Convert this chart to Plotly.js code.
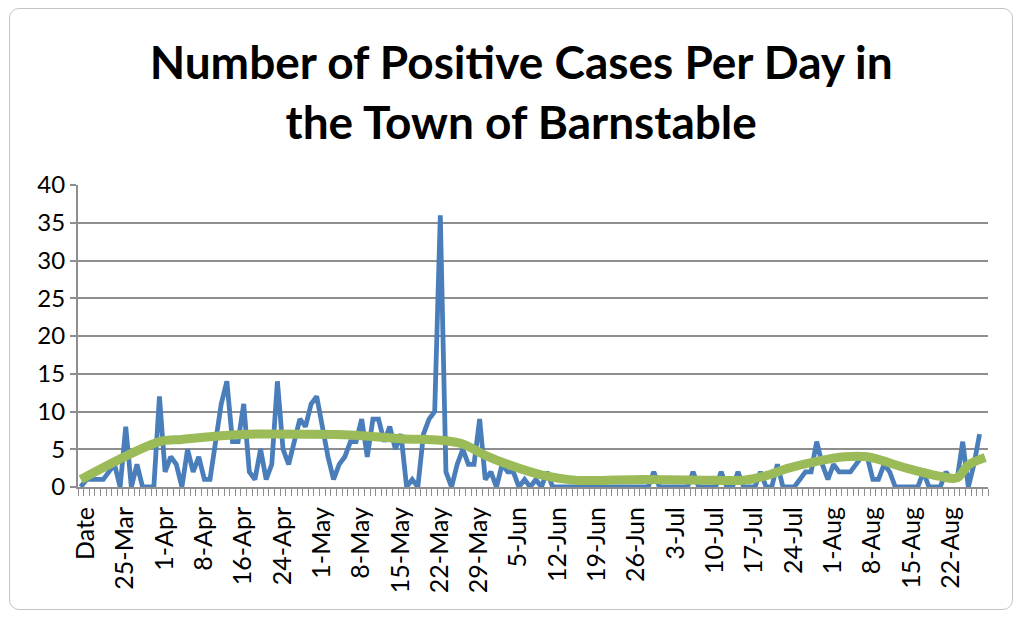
<!DOCTYPE html>
<html>
<head>
<meta charset="utf-8">
<script src="https://cdn.plot.ly/plotly-3.0.1.min.js"></script>
<style>
  html, body { margin: 0; padding: 0; background: #ffffff; }
  #wrap { position: relative; width: 1024px; height: 618px; }
  #chart { width: 1024px; height: 618px; }
  #frame { position: absolute; left: 9px; top: 8px; width: 1004px; height: 602px;
           border: 1.5px solid #c4c4c4; border-radius: 10px; pointer-events: none; box-sizing: border-box; }
</style>
</head>
<body>
<div id="wrap"><div id="chart"></div><div id="frame"></div></div>
<script>
// Tick labels: one label every 7 categories
const tickLabels = ['Date','25-Mar','1-Apr','8-Apr','16-Apr','24-Apr','1-May','8-May','15-May',
  '22-May','29-May','5-Jun','12-Jun','19-Jun','26-Jun','3-Jul','10-Jul','17-Jul','24-Jul',
  '1-Aug','8-Aug','15-Aug','22-Aug'];
const labelEvery = 7;

// Positive cases per day (one value per category)
const cases = [
  0,1,1,1,1,2,3,0,8,0,
  3,0,0,0,12,2,4,3,0,5,
  2,4,1,1,6,11,14,6,6,11,
  2,1,5,1,3,14,5,3,6,9,
  8,11,12,8,4,1,3,4,6,6,
  9,4,9,9,6,8,5,7,0,1,
  0,7,9,10,36,2,0,3,5,3,
  3,9,1,2,0,3,2,2,0,1,
  0,1,0,2,0,0,0,0,0,0,
  0,0,0,0,0,0,0,0,0,0,
  0,0,2,0,0,0,0,0,0,2,
  0,0,0,0,2,0,0,2,0,0,
  0,2,0,0,3,0,0,0,1,2,
  2,6,3,1,3,2,2,2,3,4,
  4,1,1,3,2,0,0,0,0,0,
  2,0,0,0,2,1,1,6,0,3,
  7
];

// Smoothed trend (green line), read at category positions
const trendDay   = [0, 14, 18, 25, 30, 40, 48, 57, 64, 68, 72, 76, 82, 88, 100, 113, 118, 122, 126, 131, 136, 140, 147, 153, 156, 158, 161];
const trendValue = [1.0, 6.0, 6.3, 6.8, 7.0, 7.0, 6.9, 6.4, 6.2, 5.7, 4.2, 3.0, 1.6, 0.9, 1.0, 0.9, 0.9, 1.5, 2.5, 3.4, 4.0, 4.0, 2.5, 1.4, 1.2, 2.9, 3.9];

const dayIndex = cases.map((_, i) => i);
const tickVals = tickLabels.map((_, k) => k * labelEvery);

const FONT = 'Lato, "Open Sans", sans-serif';
const GRID = '#8e8e8e';

const traces = [
  {
    x: dayIndex, y: cases, type: 'scatter', mode: 'lines',
    line: { color: '#4a7ebb', width: 4.8 },
    hoverinfo: 'skip', showlegend: false
  },
  {
    x: trendDay, y: trendValue, type: 'scatter', mode: 'lines',
    line: { color: '#9bbb59', width: 9, shape: 'spline', smoothing: 0.9 },
    hoverinfo: 'skip', showlegend: false
  }
];

const layout = {
  width: 1024, height: 618,
  paper_bgcolor: '#ffffff', plot_bgcolor: '#ffffff',
  margin: { l: 78, r: 36, t: 185, b: 131 },
  showlegend: false,
  title: {
    text: '<b>Number of Positive Cases Per Day in<br>the Town of Barnstable</b>',
    font: { family: FONT, size: 46, color: '#000000' },
    x: 0.509, xanchor: 'center', xref: 'container',
    y: 0.872, yanchor: 'top', yref: 'container'
  },
  xaxis: {
    range: [-0.5, cases.length + 0.5],
    tickmode: 'array', tickvals: tickVals, ticktext: tickLabels,
    tickangle: -90, ticks: '',
    ticklabelstandoff: 8, ticklabelshift: 5,
    tickfont: { family: FONT, size: 25, color: '#000000' },
    showgrid: false, zeroline: false,
    showline: true, linecolor: GRID, linewidth: 2,
    minor: { tickmode: 'linear', tick0: -0.5, dtick: 1, ticks: 'outside', ticklen: 7,
             tickcolor: GRID, tickwidth: 1, showgrid: false },
    fixedrange: true
  },
  yaxis: {
    range: [0, 40], tickmode: 'linear', tick0: 0, dtick: 5,
    ticks: 'outside', ticklen: 6, tickcolor: GRID, tickwidth: 2,
    tickfont: { family: FONT, size: 24, color: '#000000' },
    showgrid: true, gridcolor: GRID, gridwidth: 2,
    zeroline: false, showline: true, linecolor: GRID, linewidth: 2,
    fixedrange: true
  }
};

Plotly.newPlot('chart', traces, layout, { displayModeBar: false, staticPlot: true });
</script>
</body>
</html>
